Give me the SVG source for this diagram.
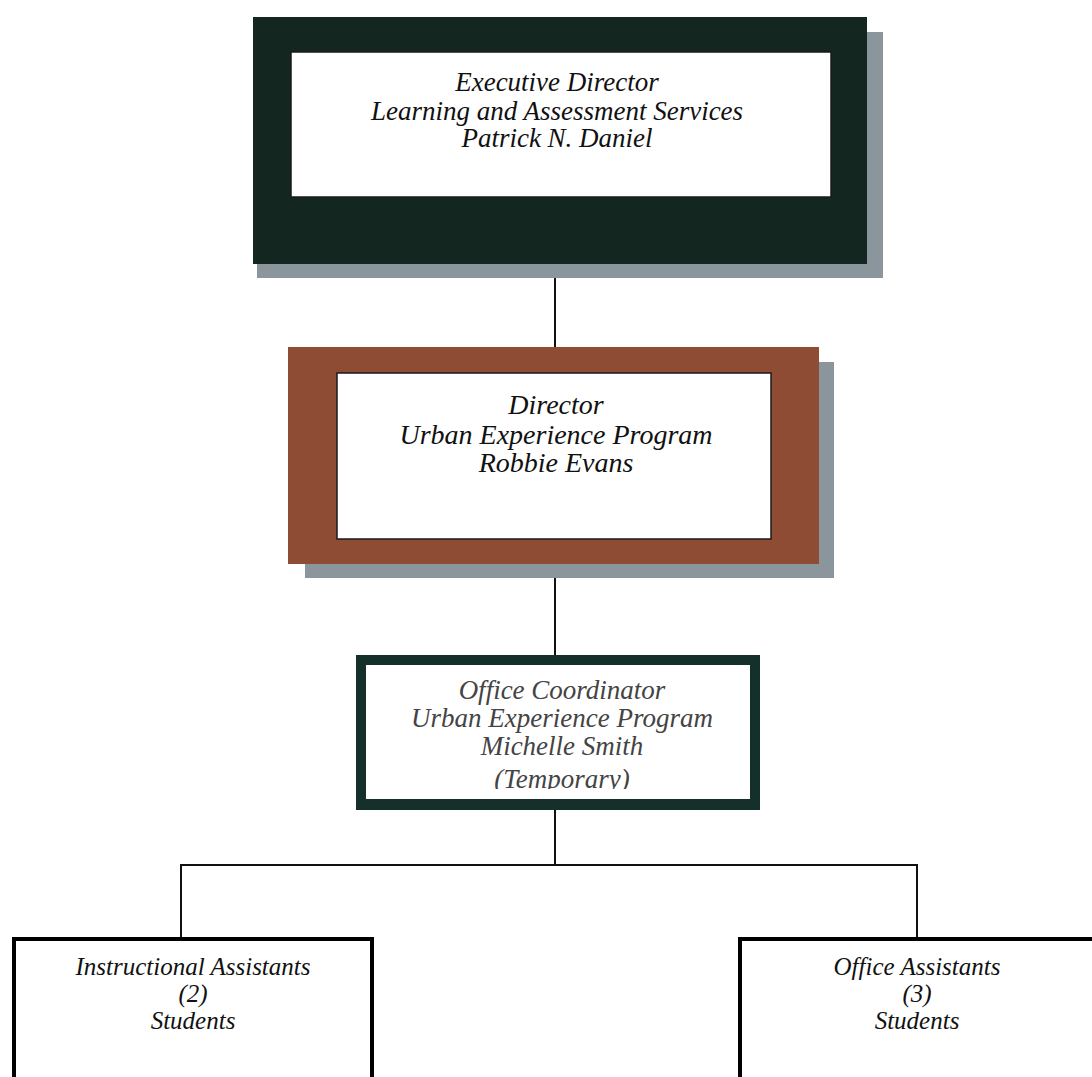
<svg xmlns="http://www.w3.org/2000/svg" width="1092" height="1077" viewBox="0 0 1092 1077">
<style>
.t{font-family:"Liberation Serif","Times New Roman",serif;font-style:italic;font-size:27px;fill:#111;text-anchor:middle}
.tb{font-family:"Liberation Serif","Times New Roman",serif;font-style:italic;font-size:25px;fill:#111;text-anchor:middle}
.t2{font-family:"Liberation Serif","Times New Roman",serif;font-style:italic;font-size:28px;fill:#111;text-anchor:middle}
.t3{font-family:"Liberation Serif","Times New Roman",serif;font-style:italic;font-size:27px;fill:#444;text-anchor:middle}
.c{stroke:#111;stroke-width:2;fill:none}
.sh{fill:#8a969c}
.in{fill:#fff;stroke:#1a1a1a;stroke-width:1.5}
</style>
<defs>
<clipPath id="clip3"><rect x="366" y="665" width="384" height="124"/></clipPath>
</defs>
<rect width="1092" height="1077" fill="#fff"/>
<g id="connectors">
<line class="c" x1="555" y1="278" x2="555" y2="347"/>
<line class="c" x1="555" y1="578" x2="555" y2="655"/>
<line class="c" x1="555" y1="810" x2="555" y2="865"/>
<polyline class="c" points="181,937 181,865 917,865 917,937"/>
</g>
<g id="exec">
<rect class="sh" x="257" y="32" width="626" height="246"/>
<rect x="253" y="17" width="614" height="247" fill="#13261f"/>
<rect class="in" x="291" y="52" width="540" height="145"/>
<text class="t" x="557" y="91">Executive Director</text>
<text class="t" x="557" y="120">Learning and Assessment Services</text>
<text class="t" x="557" y="147">Patrick N. Daniel</text>
</g>
<g id="director">
<rect class="sh" x="305" y="362" width="529" height="216"/>
<rect x="288" y="347" width="531" height="217" fill="#8e4c35"/>
<rect class="in" x="337" y="373" width="434" height="166"/>
<text class="t2" x="556" y="414">Director</text>
<text class="t2" x="556" y="444">Urban Experience Program</text>
<text class="t2" x="556" y="472">Robbie Evans</text>
</g>
<g id="coordinator">
<rect x="356" y="655" width="404" height="155" fill="#15302a"/>
<rect x="366" y="665" width="384" height="134" fill="#fff"/>
<g clip-path="url(#clip3)">
<text class="t3" x="562" y="699">Office Coordinator</text>
<text class="t3" x="562" y="727">Urban Experience Program</text>
<text class="t3" x="562" y="755">Michelle Smith</text>
<text class="t3" x="562" y="788">(Temporary)</text>
</g>
</g>
<g id="instructional">
<rect x="14" y="939" width="358" height="150" fill="#fff" stroke="#000" stroke-width="4"/>
<text class="tb" x="193" y="975">Instructional Assistants</text>
<text class="tb" x="193" y="1002">(2)</text>
<text class="tb" x="193" y="1029">Students</text>
</g>
<g id="office">
<rect x="740" y="939" width="370" height="150" fill="#fff" stroke="#000" stroke-width="4"/>
<text class="tb" x="917" y="975">Office Assistants</text>
<text class="tb" x="917" y="1002">(3)</text>
<text class="tb" x="917" y="1029">Students</text>
</g>
</svg>
